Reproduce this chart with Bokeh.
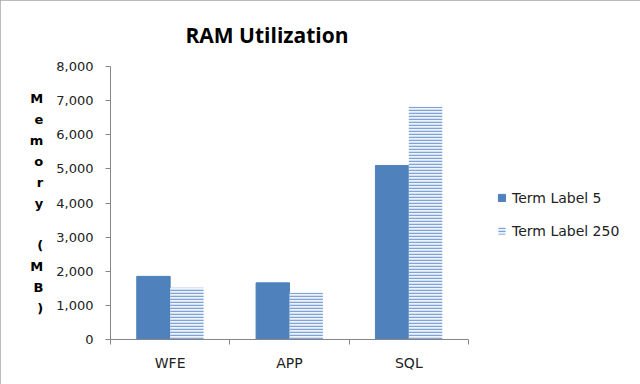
import numpy as np
from bokeh.plotting import figure
from bokeh.models import (Range1d, FixedTicker, NumeralTickFormatter, Legend, LegendItem,
                          ColumnDataSource)
from bokeh.embed import file_html
from bokeh.resources import INLINE

categories = ["WFE", "APP", "SQL"]
term_label_5 = [1850, 1660, 5100]
term_label_250 = [1520, 1370, 6820]
y_ticks = [0, 1000, 2000, 3000, 4000, 5000, 6000, 7000, 8000]
series_names = ["Term Label 5", "Term Label 250"]
title_text = "RAM Utilization"
y_title = "Memory (MB)"

FONT = "DejaVu Sans"
BLUE = "#4F81BD"
GRAY = "#868686"

n = len(categories)
idx = np.arange(n)
src = ColumnDataSource(dict(
    x5=idx + 0.5 - 0.14, x250=idx + 0.5 + 0.14,
    t5=term_label_5, t250=term_label_250,
))

# frame spans to the right edge so the legend can sit inside it; the axis is bounded to the categories
p = figure(width=640, height=384, output_backend="svg", toolbar_location=None,
           x_range=Range1d(0, n * 522 / 358), y_range=Range1d(0, 8000),
           min_border_left=110, min_border_right=8, min_border_top=66, min_border_bottom=45)
p.outline_line_color = None
p.xgrid.grid_line_color = None
p.ygrid.grid_line_color = None
p.background_fill_color = "white"
p.border_fill_color = "white"
p.styles = {"outline": "1px solid #A6A6A6", "outline-offset": "-1px"}

# title
p.title.text = title_text
p.title.text_font = "Open Sans"
p.title.text_font_size = "21px"
p.title.text_font_style = "bold"
p.title.text_color = "black"
p.title.align = "left"
p.title.offset = 75
p.title.standoff = 35

r5 = p.vbar(x="x5", top="t5", width=0.28, source=src, fill_color=BLUE, line_color=BLUE)
r250 = p.vbar(x="x250", top="t250", width=0.28, source=src, fill_color="#EEF3FA",
              line_color=None, hatch_pattern="horizontal_line", hatch_color="#7FA3D6",
              hatch_scale=3, hatch_weight=1.5)

# y axis
ya = p.yaxis[0]
ya.ticker = FixedTicker(ticks=y_ticks, minor_ticks=[])
ya.formatter = NumeralTickFormatter(format="0,0")
ya.axis_line_color = GRAY
ya.major_tick_line_color = GRAY
ya.major_tick_out = 5
ya.major_tick_in = 0
ya.major_label_standoff = 12
ya.major_label_text_font = FONT
ya.major_label_text_font_size = "13px"
ya.major_label_text_color = "#222222"
ya.axis_label = "\n".join(y_title)
ya.axis_label_orientation = "horizontal"
ya.axis_label_text_font = FONT
ya.axis_label_text_font_size = "13px"
ya.axis_label_text_font_style = "bold"
ya.axis_label_text_color = "black"
ya.axis_label_text_align = "center"
ya.axis_label_text_line_height = 1.4
ya.axis_label_standoff = 10

# x axis
xa = p.xaxis[0]
xa.bounds = (0, n)
xa.ticker = FixedTicker(ticks=list(idx + 0.5), minor_ticks=list(range(n + 1)))
xa.major_label_overrides = {float(i + 0.5): c for i, c in enumerate(categories)}
xa.axis_line_color = GRAY
xa.major_tick_line_color = None
xa.major_tick_out = 0
xa.major_tick_in = 0
xa.minor_tick_line_color = GRAY
xa.minor_tick_out = 5
xa.minor_tick_in = 0
xa.major_label_standoff = 10
xa.major_label_text_font = FONT
xa.major_label_text_font_size = "14px"
xa.major_label_text_color = "#222222"

legend = Legend(items=[LegendItem(label=series_names[0], renderers=[r5]),
                       LegendItem(label=series_names[1], renderers=[r250])],
                location=(387, 100), padding=0, margin=0, spacing=16,
                glyph_width=9, glyph_height=9, label_height=17, label_standoff=6,
                border_line_color=None, background_fill_alpha=0,
                label_text_font=FONT, label_text_font_size="14px", label_text_color="#222222")
p.add_layout(legend, "center")

open("out.html", "w").write(file_html(p, INLINE))
